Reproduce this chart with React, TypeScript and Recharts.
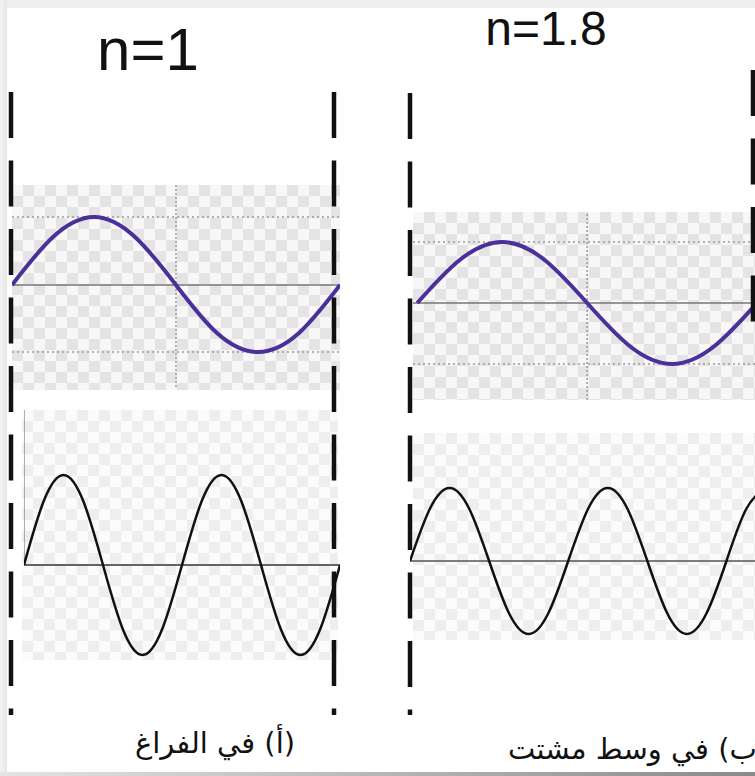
import React from 'react';
import { ComposedChart, Line, XAxis, YAxis, ReferenceLine } from 'recharts';

// Wave samples, one value every eighth of a period (in px of amplitude)
const upperAValues = [0, 48, 68, 48, 0, -48, -67, -48, 0];
const lowerAValues = [0, 64, 90, 64, 0, -64, -90, -64, 0, 64, 90, 64, 0, -64, -90, -64, 0];
const upperBValues = [0, 43, 61, 43, 0, -43, -61, -43, 0];
const lowerBValues = [0, 52, 73, 52, 0, -52, -73, -52, 0, 52, 73, 52, 0, -52, -73, -52, 0, 52, 73];
const upperAGrid = [68, -67];
const upperBGrid = [61, -61];
const titles = ['n=1', 'n=1.8'];
const captions = ['(أ) في الفراغ', '(ب) في وسط مشتت'];
const frameEdges = [0, 1];

const checkerUpper = {
  backgroundImage: 'repeating-conic-gradient(#e4e4e4 0% 25%, #f7f7f7 0% 50%)',
  backgroundSize: '22px 22px',
};
const checkerLower = {
  backgroundImage: 'repeating-conic-gradient(#eeeeee 0% 25%, #fbfbfb 0% 50%)',
  backgroundSize: '22px 22px',
};

function Wave(props: any) {
  const { left, top, width, height, values, xDomain, yDomain, stroke, strokeWidth, axisColor, grid = [], midX, vAxis } = props;
  const data = values.map((v: number, i: number) => ({ t: i, v }));
  return (
    <div style={{ position: 'absolute', left, top, width, height }}>
      <ComposedChart width={width} height={height} data={data} margin={{ top: 0, right: 0, bottom: 0, left: 0 }}>
        <XAxis dataKey="t" type="number" domain={xDomain} hide allowDataOverflow />
        <YAxis type="number" domain={yDomain} hide allowDataOverflow />
        {grid.map((g: number) => (
          <ReferenceLine key={g} y={g} stroke="#9a9a9a" strokeWidth={1.5} strokeDasharray="2 3" />
        ))}
        {midX != null && <ReferenceLine x={midX} stroke="#9a9a9a" strokeWidth={1.5} strokeDasharray="2 2" />}
        <ReferenceLine y={0} stroke={axisColor} strokeWidth={1.5} />
        {vAxis && <ReferenceLine segment={vAxis} stroke="#666" strokeWidth={1} />}
        <Line dataKey="v" type="natural" stroke={stroke} strokeWidth={strokeWidth} dot={false} isAnimationActive={false} />
      </ComposedChart>
    </div>
  );
}

// A frame whose plot spans [x0, x1] horizontally and [top, top+height] vertically; draws dashed edges at the given domain values.
function Frame({ x0, x1, top, height, edges }: { x0: number; x1: number; top: number; height: number; edges: number[] }) {
  const pad = 10;
  const w = x1 - x0 + pad * 2;
  const h = height + pad * 2;
  return (
    <div style={{ position: 'absolute', left: x0 - pad, top: top - pad, width: w, height: h }}>
      <ComposedChart width={w} height={h} data={[{ t: 0, v: 0 }, { t: 1, v: 1 }]} margin={{ top: pad, right: pad, bottom: pad, left: pad }}>
        <XAxis dataKey="t" type="number" domain={[0, 1]} hide />
        <YAxis type="number" domain={[0, 1]} hide />
        <Line dataKey="v" stroke="none" dot={false} isAnimationActive={false} />
        {edges.map((e) => (
          <ReferenceLine key={e} segment={[{ x: e, y: 1 }, { x: e, y: 0 }]} stroke="#111" strokeWidth={4.5} strokeDasharray="46 22.5" ifOverflow="visible" />
        ))}
      </ComposedChart>
    </div>
  );
}

export default function App() {
  return (
    <div style={{ position: 'absolute', left: 0, top: 0, width: 755, height: 776, overflow: 'hidden', background: '#fff' }}>
      {/* page frame */}
      <div style={{ position: 'absolute', left: 0, top: 0, width: 755, height: 8, background: '#eeeeee' }} />
      <div style={{ position: 'absolute', left: 0, top: 0, width: 7, height: 776, background: 'linear-gradient(to right, #f3f3f3, #e6e6e6)' }} />
      <div style={{ position: 'absolute', left: 0, top: 772, width: 755, height: 4, background: 'linear-gradient(to right, #e4e4e4, #8a8a8a)' }} />

      {/* checkered backgrounds */}
      <div style={{ position: 'absolute', left: 12, top: 185, width: 328, height: 205, ...checkerUpper }} />
      <div style={{ position: 'absolute', left: 22, top: 410, width: 316, height: 250, ...checkerLower }} />
      <div style={{ position: 'absolute', left: 413, top: 212, width: 342, height: 188, ...checkerUpper }} />
      <div style={{ position: 'absolute', left: 413, top: 433, width: 342, height: 207, ...checkerLower }} />

      {/* panel A */}
      <Wave left={12} top={185} width={328} height={202} values={upperAValues} xDomain={[0, 8]} yDomain={[-102, 100]}
        stroke="#4b2f9a" strokeWidth={4} axisColor="#777" grid={upperAGrid} midX={4} />
      <Wave left={24} top={410} width={316} height={250} values={lowerAValues} xDomain={[0, 16]} yDomain={[-95, 155]}
        stroke="#111" strokeWidth={2.5} axisColor="#333" vAxis={[{ x: 0, y: 0 }, { x: 0, y: 155 }]} />

      {/* panel B */}
      <Wave left={413} top={212} width={344} height={188} values={upperBValues} xDomain={[-0.1, 8]} yDomain={[-97, 91]}
        stroke="#4b2f9a" strokeWidth={4} axisColor="#777" grid={upperBGrid} midX={4} />
      <Wave left={410} top={433} width={356} height={207} values={lowerBValues} xDomain={[0, 18]} yDomain={[-79, 128]}
        stroke="#111" strokeWidth={2.5} axisColor="#555" />

      {/* dashed boundaries */}
      <Frame x0={11} x1={334} top={92} height={623} edges={frameEdges} />
      <Frame x0={410} x1={753} top={93} height={622} edges={[frameEdges[0]]} />
      <Frame x0={410} x1={753} top={70} height={253} edges={[frameEdges[1]]} />

      {/* titles */}
      <svg width={755} height={776} style={{ position: 'absolute', left: 0, top: 0, pointerEvents: 'none' }}>
        <text x={148} y={70} textAnchor="middle" fontFamily="'Liberation Sans', Arial, sans-serif" fontSize={60} fill="#111">{titles[0]}</text>
        <text x={546} y={45} textAnchor="middle" fontFamily="'Liberation Sans', Arial, sans-serif" fontSize={48} fill="#111">{titles[1]}</text>
      </svg>

      {/* captions */}
      <div dir="rtl" style={{ position: 'absolute', left: 65, top: 729, width: 300, textAlign: 'center', fontFamily: "'DejaVu Sans', sans-serif", fontSize: 29, lineHeight: '29px', color: '#111', whiteSpace: 'nowrap' }}>
        {captions[0]}
      </div>
      <div dir="rtl" style={{ position: 'absolute', left: 508, top: 735, fontFamily: "'DejaVu Sans', sans-serif", fontSize: 29, lineHeight: '29px', color: '#111', whiteSpace: 'nowrap' }}>
        {captions[1]}
      </div>
    </div>
  );
}
